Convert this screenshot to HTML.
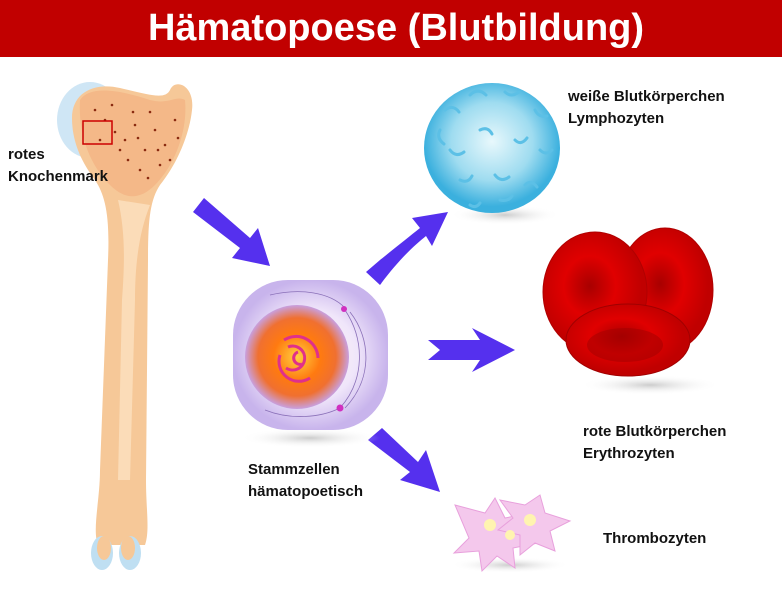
<!DOCTYPE html>
<html><head><meta charset="utf-8"><style>
body{margin:0;width:782px;height:612px;background:#fff;overflow:hidden;position:relative;font-family:"Liberation Sans",sans-serif}
.bar{position:absolute;left:0;top:0;width:782px;height:57px;background:#c10000;color:#fff;font-size:38px;font-weight:bold;text-align:center;line-height:57px}
.bar span{position:relative;left:5px;display:inline-block;transform:scaleX(1.0)}
.l{position:absolute;font-size:15px;font-weight:bold;color:#111;line-height:22px}
svg{position:absolute;left:0;top:0}
</style></head><body>
<div class="bar"><span>Hämatopoese (Blutbildung)</span></div>
<svg width="782" height="612">
<defs>
<radialGradient id="wc" cx="50%" cy="45%"><stop offset="0" stop-color="#e8f8fc"/><stop offset="0.6" stop-color="#9fdcf0"/><stop offset="1" stop-color="#3bb0de"/></radialGradient>
<radialGradient id="rc" cx="45%" cy="45%"><stop offset="0" stop-color="#a80000"/><stop offset="0.5" stop-color="#e00000"/><stop offset="1" stop-color="#c00000"/></radialGradient>
<radialGradient id="cy" cx="50%" cy="50%"><stop offset="0" stop-color="#fff8f0"/><stop offset="0.6" stop-color="#f0e6fa"/><stop offset="1" stop-color="#c8b4ec"/></radialGradient>
<radialGradient id="nu"><stop offset="0" stop-color="#ffd040"/><stop offset="0.45" stop-color="#ff7a10"/><stop offset="0.75" stop-color="#f07030"/><stop offset="1" stop-color="#c8a0e0"/></radialGradient>
<radialGradient id="sh"><stop offset="0" stop-color="#ccc"/><stop offset="1" stop-color="#fff" stop-opacity="0"/></radialGradient>
</defs>
<!-- bone -->
<ellipse cx="90" cy="120" rx="33" ry="38" fill="#cfe6f5"/>
<path d="M72,118 C72,92 95,82 120,88 C150,95 165,100 170,90 C175,78 195,85 192,110 C190,130 180,160 160,185 C150,200 148,220 148,260 L146,480 C146,510 150,530 145,545 L98,545 C92,530 100,500 100,470 L108,260 C110,215 105,195 95,180 C80,160 72,140 72,118Z" fill="#f6c898"/>
<path d="M118,200 C125,230 125,260 122,300 L118,480 L130,480 L135,300 C135,260 140,230 150,205Z" fill="#fbdcb8"/>
<path d="M80,100 C90,85 120,90 150,100 C170,105 175,95 185,100 C188,130 175,165 155,185 C140,200 125,200 110,185 C90,165 78,135 80,100Z" fill="#f4b888"/>
<g fill="#8a2a10">
<circle cx="95" cy="110" r="1.3"/><circle cx="105" cy="120" r="1.3"/><circle cx="115" cy="132" r="1.3"/><circle cx="125" cy="140" r="1.3"/><circle cx="135" cy="125" r="1.3"/><circle cx="145" cy="150" r="1.3"/><circle cx="155" cy="130" r="1.3"/><circle cx="165" cy="145" r="1.3"/><circle cx="175" cy="120" r="1.3"/><circle cx="160" cy="165" r="1.3"/><circle cx="140" cy="170" r="1.3"/><circle cx="128" cy="160" r="1.3"/><circle cx="150" cy="112" r="1.3"/><circle cx="170" cy="160" r="1.3"/><circle cx="100" cy="140" r="1.3"/><circle cx="112" cy="105" r="1.3"/><circle cx="138" cy="138" r="1.3"/><circle cx="158" cy="150" r="1.3"/><circle cx="148" cy="178" r="1.3"/><circle cx="120" cy="150" r="1.3"/><circle cx="178" cy="138" r="1.3"/><circle cx="133" cy="112" r="1.3"/>
</g>
<rect x="83" y="121" width="29" height="23" fill="none" stroke="#c00" stroke-width="1.5"/>
<ellipse cx="102" cy="553" rx="11" ry="17" fill="#bfdff2"/><ellipse cx="130" cy="553" rx="11" ry="17" fill="#bfdff2"/>
<ellipse cx="104" cy="548" rx="7" ry="12" fill="#f6c898"/><ellipse cx="128" cy="548" rx="7" ry="12" fill="#f6c898"/>
<!-- arrows -->
<g fill="#5530ee">
<path d="M193,212 L204,198 L250,238 L258,228 L270,266 L232,258 L240,248Z"/>
<path d="M366,272 L380,260 C395,248 410,236 420,228 L412,218 L448,212 L432,246 L426,236 C415,245 400,258 380,285Z"/>
<path d="M428,340 L480,340 L472,328 L515,350 L472,372 L480,360 L428,360 L440,350Z"/>
<path d="M368,440 L382,428 L418,462 L426,450 L440,492 L400,480 L410,472Z"/>
</g>
<!-- stem cell -->
<ellipse cx="310" cy="438" rx="70" ry="10" fill="url(#sh)"/>
<rect x="233" y="280" width="155" height="150" rx="55" fill="url(#cy)"/>
<circle cx="297" cy="357" r="52" fill="url(#nu)"/>
<g fill="none" stroke="#e0308a" stroke-width="3"><path d="M288,347 A12,12 0 1 1 286,368"/><path d="M298,352 A6,6 0 1 0 302,364"/><path d="M280,355 A20,20 0 0 0 310,378"/><path d="M284,340 A22,22 0 0 1 318,358"/></g>
<g fill="none" stroke="#8a70b8" stroke-width="0.8"><path d="M345,310 C365,340 365,380 340,408"/><path d="M350,312 C372,340 372,380 345,408"/><path d="M270,295 C300,288 330,292 345,308"/><path d="M265,410 C290,420 320,418 340,408"/></g>
<circle cx="344" cy="309" r="3" fill="#d030c0"/><circle cx="340" cy="408" r="3.5" fill="#d030c0"/>
<!-- white cell -->
<ellipse cx="505" cy="215" rx="55" ry="10" fill="url(#sh)"/>
<ellipse cx="492" cy="148" rx="68" ry="65" fill="url(#wc)"/>
<g stroke="#5cc0e6" stroke-width="3" fill="none" stroke-linecap="round">
<path d="M445,110 q8,-6 14,2"/><path d="M470,95 q8,-8 16,0"/><path d="M505,92 q6,6 14,0"/><path d="M535,110 q4,8 12,6"/><path d="M450,150 q6,8 14,2"/><path d="M480,130 q8,-4 12,4"/><path d="M515,140 q6,6 12,-2"/><path d="M540,150 q6,6 12,0"/><path d="M460,180 q8,4 12,-4"/><path d="M495,175 q6,8 14,2"/><path d="M525,185 q6,-6 12,2"/><path d="M440,130 q-4,8 4,14"/><path d="M500,200 q8,2 12,-4"/><path d="M470,205 q6,4 10,-2"/>
</g>
<!-- red cells -->
<ellipse cx="650" cy="385" rx="70" ry="10" fill="url(#sh)"/>
<ellipse cx="665" cy="290" rx="48" ry="62" fill="url(#rc)" stroke="#b00000" stroke-width="1"/>
<ellipse cx="595" cy="292" rx="52" ry="60" fill="url(#rc)" stroke="#b00000" stroke-width="1"/>
<ellipse cx="628" cy="340" rx="62" ry="36" fill="url(#rc)" stroke="#a00000" stroke-width="1"/>
<ellipse cx="625" cy="345" rx="38" ry="17" fill="#a00000" opacity="0.5"/>
<!-- thrombocytes -->
<ellipse cx="510" cy="565" rx="60" ry="8" fill="url(#sh)"/>
<g fill="#f4c8ec" stroke="#e8a0dc" stroke-width="1">
<path d="M455,505 l30,8 l10,-15 l10,20 l25,-5 l-12,18 l20,12 l-25,5 l2,20 l-18,-12 l-15,15 l-3,-20 l-25,2 l15,-15 z"/>
<path d="M500,500 l25,5 l15,-10 l5,18 l25,8 l-20,10 l5,20 l-20,-8 l-15,12 l0,-20 l-22,-5 l15,-12 z"/>
</g>
<g fill="#fff4b0"><circle cx="490" cy="525" r="6"/><circle cx="530" cy="520" r="6"/><circle cx="510" cy="535" r="5"/></g>
</svg>
<div class="l" style="left:8px;top:144px">rotes<br>Knochenmark</div>
<div class="l" style="left:568px;top:86px">weiße Blutkörperchen<br>Lymphozyten</div>
<div class="l" style="left:583px;top:421px">rote Blutkörperchen<br>Erythrozyten</div>
<div class="l" style="left:248px;top:459px">Stammzellen<br>hämatopoetisch</div>
<div class="l" style="left:603px;top:528px">Thrombozyten</div>
</body></html>
